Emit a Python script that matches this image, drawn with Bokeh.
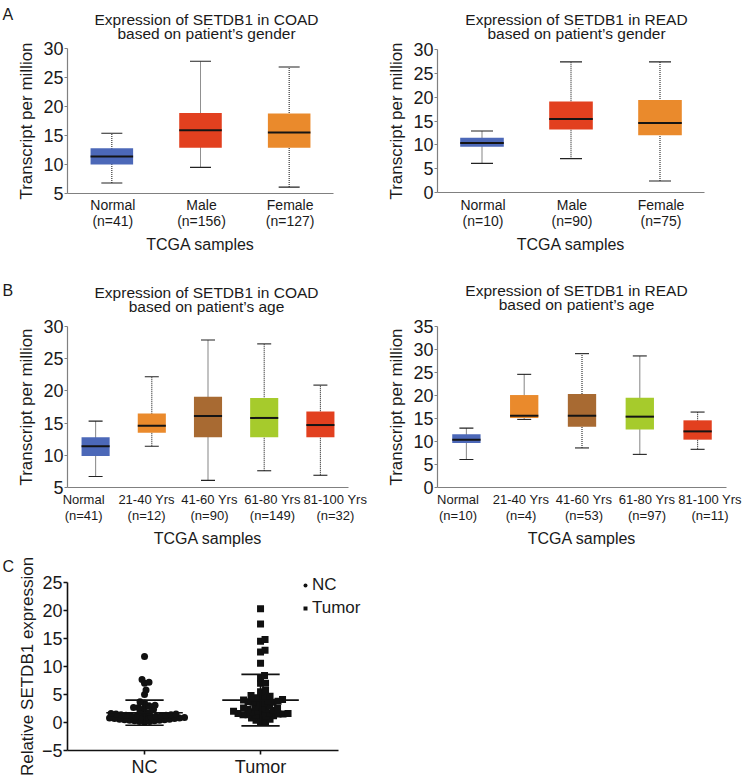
import numpy as np
from bokeh.plotting import figure
from bokeh.models import (ColumnDataSource, Range1d, FixedTicker, Label,
                          Whisker, TeeHead, Legend, LegendItem)
from bokeh.layouts import column, row
from bokeh.embed import file_html
from bokeh.resources import INLINE

FONT = "Liberation Sans"
INK = "#1a1a1a"

# ---------------- Panel A: by gender ----------------
gender_groups = ["Normal", "Male", "Female"]
gender_colors = ["#4C68B8", "#E2401F", "#EA8A2C"]

coad_gender_n = [41, 156, 127]
coad_gender_lower = [6.8, 9.5, 6.1]
coad_gender_q1 = [10.0, 12.9, 12.9]
coad_gender_median = [11.4, 15.9, 15.5]
coad_gender_q3 = [12.8, 18.9, 18.8]
coad_gender_upper = [15.4, 27.8, 26.8]

read_gender_n = [10, 90, 75]
read_gender_lower = [6.1, 7.1, 2.4]
read_gender_q1 = [9.6, 13.2, 12.0]
read_gender_median = [10.4, 15.4, 14.6]
read_gender_q3 = [11.5, 19.1, 19.4]
read_gender_upper = [12.9, 27.4, 27.4]

# ---------------- Panel B: by age ----------------
age_groups = ["Normal", "21-40 Yrs", "41-60 Yrs", "61-80 Yrs", "81-100 Yrs"]
age_colors = ["#4C68B8", "#EA8A2C", "#A86A32", "#A6CB2C", "#E2401F"]

coad_age_n = [41, 12, 90, 149, 32]
coad_age_lower = [6.7, 11.4, 6.1, 7.6, 6.9]
coad_age_q1 = [9.9, 13.5, 12.8, 12.8, 12.8]
coad_age_median = [11.4, 14.6, 16.1, 15.8, 14.7]
coad_age_q3 = [12.8, 16.5, 19.1, 18.9, 16.8]
coad_age_upper = [15.3, 22.2, 27.9, 27.3, 20.9]

read_age_n = [10, 4, 53, 97, 11]
read_age_lower = [6.1, 14.8, 8.6, 7.2, 8.3]
read_age_q1 = [9.7, 15.1, 13.2, 12.6, 10.4]
read_age_median = [10.4, 15.6, 15.6, 15.4, 12.2]
read_age_q3 = [11.6, 20.1, 20.3, 19.5, 14.6]
read_age_upper = [12.9, 24.6, 29.1, 28.6, 16.4]

# ---------------- Panel C: qPCR ----------------
c_groups = ["NC", "Tumor"]
nc_values = [0.1, 0.2, 0.2, 0.3, 0.3, 0.4, 0.4, 0.5, 0.5, 0.6, 0.6, 0.7, 0.7, 0.8, 0.8,
             0.9, 0.9, 1.0, 1.0, 1.1, 1.1, 1.2, 1.2, 1.3, 1.3, 1.4, 1.4, 1.5, 1.5, 1.6,
             1.7, 1.8, 1.9, 2.3, 2.6, 2.7, 2.7, 3.0, 3.1, 3.5, 3.7, 5.0, 5.8, 7.0, 7.2,
             7.7, 11.8]
tumor_values = [0.0, 0.2, 0.4, 0.6, 0.8, 1.0, 1.1, 1.2, 1.3, 1.4, 1.4, 1.5, 1.5, 1.6, 1.6,
                1.7, 1.8, 1.9, 2.0, 2.1, 2.2, 2.3, 2.4, 2.5, 2.6, 2.7, 2.8, 3.0,
                3.4, 3.5, 3.6, 3.6, 3.7, 3.8, 3.9, 4.0, 4.1, 4.3, 4.4, 4.6, 4.7, 4.8,
                5.5, 5.7, 7.0, 7.0, 7.9, 8.4, 10.6, 12.6, 12.9, 14.5, 14.8, 17.6, 20.3]
c_mean = [1.75, 4.0]
c_sd = [2.25, 4.6]


def frame_fig(W, H, ax_l, ax_r, y_t, y_b, xlo, xhi, ylo, yhi):
    """Figure whose frame fills the canvas; axes are pinned with fixed_location."""
    kx = (ax_r - ax_l) / (xhi - xlo)
    ky = (y_b - y_t) / (yhi - ylo)
    xr = (xlo - ax_l / kx, xhi + (W - ax_r) / kx)
    yr = (ylo - (H - y_b) / ky, yhi + y_t / ky)
    p = figure(x_range=Range1d(*xr), y_range=Range1d(*yr), width=W, height=H,
               output_backend="svg", toolbar_location=None,
               min_border_left=0, min_border_right=0, min_border_top=0,
               min_border_bottom=0)
    p.xgrid.visible = False
    p.ygrid.visible = False
    p.outline_line_color = None
    p.background_fill_color = "white"
    p.border_fill_color = "white"
    p.xaxis.fixed_location = ylo
    p.xaxis.bounds = (xlo, xhi)
    p.yaxis.fixed_location = xlo
    p.yaxis.bounds = (ylo, yhi)
    xd = lambda px: xr[0] + px / kx
    yd = lambda py: yr[1] - py / ky
    return p, xd, yd, kx


def add_text(p, x, y, text, size, align="left"):
    p.add_layout(Label(x=x, y=y, text=text, text_font=FONT, text_font_size=size,
                       text_align=align, text_baseline="alphabetic", text_color=INK))


def box_panel(title1, title2, groups, n, lower, q1, med, q3, upper, colors, ylo, yhi,
              W, H, ax_l, ax_r, y_t, y_b, label_px, line_h, spread, shift_px, box_w,
              cap_px, title_cx, title_b1, title_b2, letter, letter_b, tick_gap, lab_gap):
    k = len(groups)
    xs = list(range(k))
    p, xd, yd, kx = frame_fig(W, H, ax_l, ax_r, y_t, y_b, -0.5, k - 0.5, ylo, yhi)
    src = ColumnDataSource(dict(x=xs, lower=lower, q1=q1, med=med, q3=q3,
                                upper=upper, color=colors))
    w = Whisker(source=src, base="x", lower="lower", upper="upper",
                line_color="#222222", line_width=1.1, line_dash="1 1",
                lower_head=TeeHead(size=cap_px, line_color="#222222", line_width=1.1),
                upper_head=TeeHead(size=cap_px, line_color="#222222", line_width=1.1),
                level="underlay")
    p.add_layout(w)
    p.vbar(x="x", width=box_w, bottom="q1", top="q3", fill_color="color",
           line_color=None, source=src)
    p.rect(x="x", y="med", width=box_w, height=2, height_units="screen",
           fill_color="#141414", line_color=None, source=src)

    ya = p.yaxis[0]
    ya.ticker = FixedTicker(ticks=list(range(ylo, yhi + 1, 5)))
    ya.axis_label = "Transcript per million"
    ya.axis_label_text_font = FONT
    ya.axis_label_text_font_size = "17px"
    ya.axis_label_text_font_style = "normal"
    ya.axis_label_text_color = INK
    ya.axis_label_standoff = 4
    ya.major_label_text_font = FONT
    ya.major_label_text_font_size = "18px"
    ya.major_label_text_color = INK
    ya.major_label_standoff = 1
    ya.major_tick_out = 3
    ya.major_tick_in = 0
    ya.minor_tick_out = 0
    ya.minor_tick_in = 0
    ya.axis_line_color = "#808080"
    ya.axis_line_width = 1.2
    ya.major_tick_line_color = "#808080"

    mid = (k - 1) / 2
    shift = shift_px / kx
    label_pos = [round(mid + (i - mid) * spread + shift, 4) for i in xs]
    xa = p.xaxis[0]
    xa.ticker = FixedTicker(ticks=label_pos)
    xa.major_label_overrides = {lp: f"{g}\n(n={c})" for lp, g, c in zip(label_pos, groups, n)}
    xa.axis_label = "TCGA samples"
    xa.axis_label_text_font = FONT
    xa.axis_label_text_font_size = "16px"
    xa.axis_label_text_font_style = "normal"
    xa.axis_label_text_color = INK
    xa.axis_label_standoff = lab_gap
    xa.major_label_text_font = FONT
    xa.major_label_text_font_size = label_px
    xa.major_label_text_line_height = line_h
    xa.major_label_text_color = INK
    xa.major_label_standoff = tick_gap
    xa.major_tick_out = 0
    xa.major_tick_in = 0
    xa.minor_tick_out = 0
    xa.minor_tick_in = 0
    xa.axis_line_color = "#808080"
    xa.axis_line_width = 1.2

    add_text(p, xd(title_cx), yd(title_b1), title1, "15.5px", "center")
    add_text(p, xd(title_cx), yd(title_b2), title2, "15.5px", "center")
    if letter:
        add_text(p, xd(2), yd(letter_b), letter, "16px")
    return p


WA = 373
pA1 = box_panel("Expression of SETDB1 in COAD", "based on patient\u2019s gender",
                gender_groups, coad_gender_n, coad_gender_lower, coad_gender_q1,
                coad_gender_median, coad_gender_q3, coad_gender_upper, gender_colors,
                5, 30, WA, 252, 67, 333, 48, 193, "14px", 1.0, 1.0, 1, 0.48, 21,
                206, 18.5, 32.5, "A", 13.5, 3, 4)
pA2 = box_panel("Expression of SETDB1 in READ", "based on patient\u2019s gender",
                gender_groups, read_gender_n, read_gender_lower, read_gender_q1,
                read_gender_median, read_gender_q3, read_gender_upper, gender_colors,
                0, 30, WA, 252, 64, 331, 49, 192, "14px", 1.0, 1.0, 1, 0.49, 22,
                203, 18.5, 32.5, None, 0, 4, 4)
pB1 = box_panel("Expression of SETDB1 in COAD", "based on patient\u2019s age",
                age_groups, coad_age_n, coad_age_lower, coad_age_q1,
                coad_age_median, coad_age_q3, coad_age_upper, age_colors,
                5, 30, WA, 296, 67, 348, 74, 235, "13px", 1.07, 1.12, 1.5, 0.5, 14,
                206, 39.5, 54, "B", 38, 4, 4)
pB2 = box_panel("Expression of SETDB1 in READ", "based on patient\u2019s age",
                age_groups, read_age_n, read_age_lower, read_age_q1,
                read_age_median, read_age_q3, read_age_upper, age_colors,
                0, 35, WA, 296, 64, 353, 74, 235, "13px", 1.07, 1.09, 2, 0.49, 14,
                203, 38, 52, None, 0, 4, 4)


# ---------------- Panel C figure ----------------
def swarm(vals, d, kx, ky):
    order = sorted(range(len(vals)), key=lambda i: vals[i])
    pts = []
    offs = [0.0] * len(vals)
    cands = [0.0] + [s * j * 0.5 for j in range(1, 600) for s in (1, -1)]
    for i in order:
        y = vals[i] * ky
        for c in cands:
            if all((c - px) ** 2 + (y - py) ** 2 >= d * d for px, py in pts):
                break
        pts.append((c, y))
        offs[i] = c / kx
    return offs


CW, CH = 400, 228
pC, cxd, cyd, KX = frame_fig(CW, CH, 67, 338, 34, 202, 0.336, 2.672, -5, 25)
KY = (202 - 34) / 30.0

nc_x = [1 + o for o in swarm(nc_values, 4.6, KX, KY)]
tu_x = [2 + o for o in swarm(tumor_values, 4.8, KX, KY)]

r_nc = pC.scatter(nc_x, nc_values, marker="circle", size=7, fill_color="#111111",
                  line_color=None)
r_tu = pC.scatter(tu_x, tumor_values, marker="square", size=7, fill_color="#111111",
                  line_color=None)

gx = np.array([1.0, 2.0])
m = np.array(c_mean)
s = np.array(c_sd)
pC.segment(x0=gx, y0=m - s, x1=gx, y1=m + s, line_color="#111111", line_width=1.6)
pC.segment(x0=gx - 0.165, y0=m + s, x1=gx + 0.165, y1=m + s, line_color="#111111", line_width=1.6)
pC.segment(x0=gx - 0.165, y0=m - s, x1=gx + 0.165, y1=m - s, line_color="#111111", line_width=1.6)
pC.segment(x0=gx - 0.33, y0=m, x1=gx + 0.33, y1=m, line_color="#111111", line_width=1.6)

legend = Legend(items=[LegendItem(label=c_groups[0], renderers=[r_nc]),
                       LegendItem(label=c_groups[1], renderers=[r_tu])],
                location=(300, 158), glyph_width=10, glyph_height=12, label_height=12,
                label_standoff=2, spacing=3, padding=0, margin=0,
                border_line_color=None, background_fill_alpha=0,
                label_text_font=FONT, label_text_font_size="17px",
                label_text_color=INK)
pC.add_layout(legend)

yc = pC.yaxis[0]
yc.ticker = FixedTicker(ticks=[-5, 0, 5, 10, 15, 20, 25])
yc.axis_label = "Relative SETDB1 expression"
yc.axis_label_text_font = FONT
yc.axis_label_text_font_size = "17px"
yc.axis_label_text_font_style = "normal"
yc.axis_label_text_color = INK
yc.axis_label_standoff = 2
yc.major_label_text_font = FONT
yc.major_label_text_font_size = "18px"
yc.major_label_text_color = INK
yc.major_label_standoff = 1
yc.major_tick_out = 4
yc.major_tick_in = 0
yc.minor_tick_out = 0
yc.minor_tick_in = 0
yc.axis_line_color = "#111111"
yc.axis_line_width = 1.6
yc.major_tick_line_color = "#111111"
yc.major_tick_line_width = 1.6

xc = pC.xaxis[0]
xc.ticker = FixedTicker(ticks=[1, 2])
xc.major_label_overrides = {1: c_groups[0], 2: c_groups[1]}
xc.major_label_text_font = FONT
xc.major_label_text_font_size = "18px"
xc.major_label_text_color = INK
xc.major_label_standoff = 2
xc.major_tick_out = 4
xc.major_tick_in = 0
xc.minor_tick_out = 0
xc.minor_tick_in = 0
xc.axis_line_color = "#111111"
xc.axis_line_width = 1.6
xc.major_tick_line_color = "#111111"
xc.major_tick_line_width = 1.6

add_text(pC, cxd(2), cyd(18), "C", "16px")

layout = column(row(pA1, pA2), row(pB1, pB2), pC)

open("out.html", "w").write(file_html(layout, INLINE))
